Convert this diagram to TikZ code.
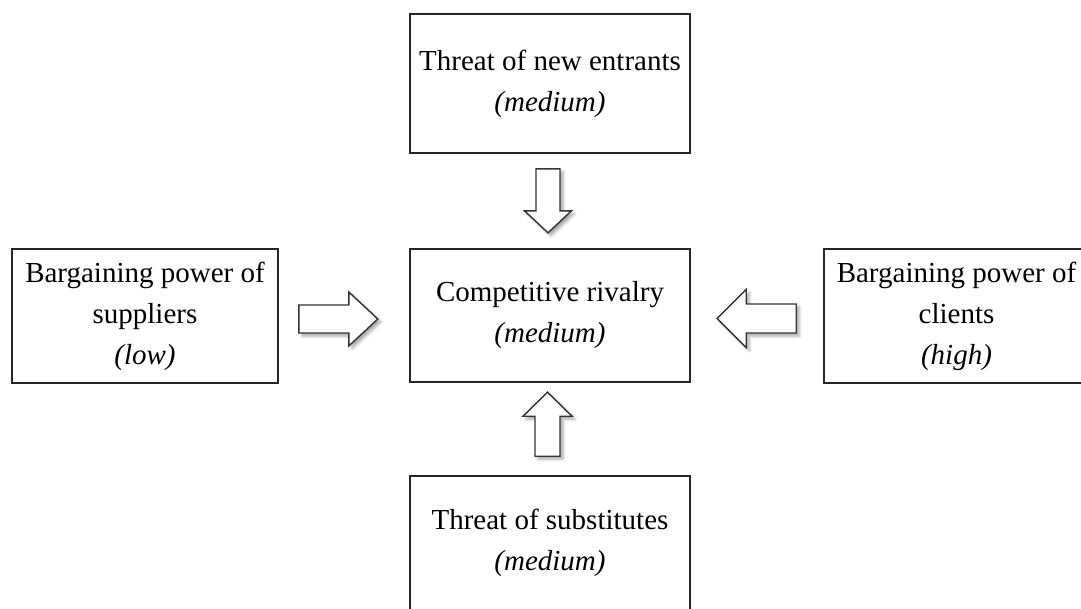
\documentclass[tikz,border=0pt]{standalone}
\usepackage{fontspec}
\setmainfont{Liberation Serif}
\usetikzlibrary{calc,shadows.blur}

\tikzset{
  force/.style={draw=black!85, line width=1.6pt, fill=white,
    minimum width=280pt, minimum height=134pt, align=center, inner sep=0pt,
    font=\fontsize{29}{41}\selectfont},
  arrowbody/.style={draw=black!80, line width=1.4pt, fill=white, line join=miter,
    blur shadow={shadow xshift=3pt, shadow yshift=-3pt, shadow blur radius=3pt,
      shadow opacity=35}},
  % hollow block arrow with its tail at the origin, pointing along +x:
  % #1 length, #2 shaft width, #3 head width, #4 head length
  pics/blockarrow/.style n args={4}{code={
    \path[arrowbody] (0,-#2/2) -- (#1-#4,-#2/2) -- (#1-#4,-#3/2) -- (#1,0)
      -- (#1-#4,#3/2) -- (#1-#4,#2/2) -- (0,#2/2) -- cycle;
  }}
}

\begin{document}
\begin{tikzpicture}[x=1pt,y=-1pt]
  \useasboundingbox (0,0) rectangle (1081,608);
  \clip (0,0) rectangle (1081,608);

  % the five forces
  \node[force, minimum height=139pt] (entrants) at (550,83.5)
    {Threat of new entrants\\\textit{(medium)}};
  \node[force, minimum height=133pt] (rivalry) at (550,315.5)
    {Competitive rivalry\\\textit{(medium)}};
  \node[force, minimum width=266pt] (suppliers) at (145,316)
    {Bargaining power of\\suppliers\\\textit{(low)}};
  \node[force, minimum width=265pt] (clients) at (956.5,316)
    {Bargaining power of\\clients\\\textit{(high)}};
  \node[force] (substitutes) at (550,543)
    {Threat of substitutes\\\textit{(medium)}};

  % tails of the block arrows pointing at the central box
  \coordinate (fromentrants) at ($(entrants.south)+(-2,15)$);
  \coordinate (fromsubstitutes) at ($(substitutes.north)+(-2.5,-19)$);
  \coordinate (fromsuppliers) at ($(suppliers.east)+(20,3)$);
  \coordinate (fromclients) at ($(clients.west)+(-27,2.5)$);

  \pic[rotate=-90] (arrowdown) at (fromentrants) {blockarrow={64}{24}{47}{22}};
  \pic[rotate=90] (arrowup) at (fromsubstitutes) {blockarrow={64}{25}{49}{24}};
  \pic (arrowright) at (fromsuppliers) {blockarrow={79}{28}{54}{29}};
  \pic[rotate=180] (arrowleft) at (fromclients) {blockarrow={79}{29}{58}{29}};
\end{tikzpicture}
\end{document}
